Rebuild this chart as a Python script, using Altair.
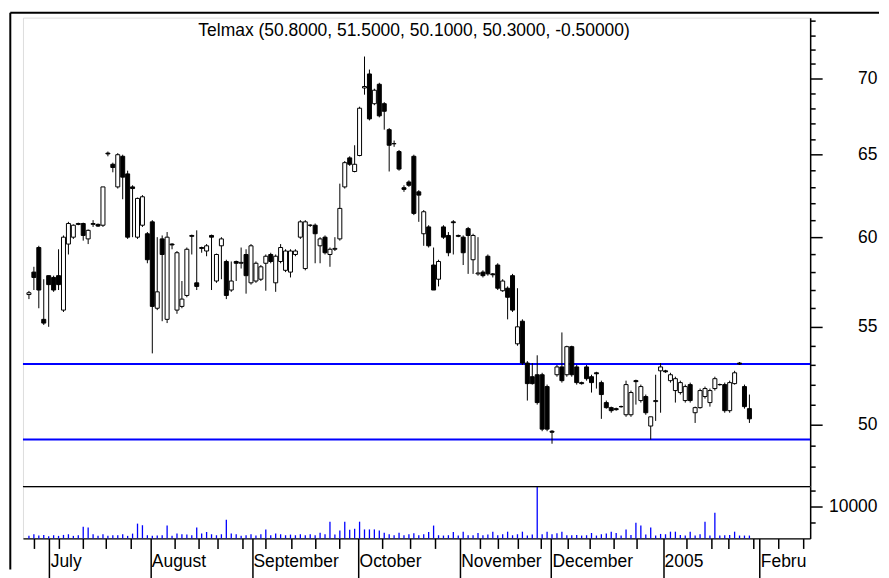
import altair as alt
import pandas as pd

FONT = "Liberation Sans"

opens = [56.75, 58.0, 59.4, 55.4, 57.8, 57.7, 57.8, 55.9, 59.6, 60.0,
         60.8, 60.8, 59.9, 60.75, 60.75, 60.7, 65.1, 64.4, 63.0, 64.9,
         63.8, 63.0, 60.0, 60.7, 60.2, 60.9, 56.0, 59.9, 55.4, 59.6,
         55.9, 56.1, 56.7, 60.1, 57.4, 59.4, 59.2, 60.1, 57.5, 59.5,
         58.6, 57.0, 58.6, 58.5, 59.0, 57.4, 57.5, 57.6, 58.5, 59.0,
         57.4, 58.6, 58.1, 58.0, 59.0, 60.0, 58.2, 60.7, 60.7, 59.5,
         60.0, 59.0, 59.3, 59.9, 63.0, 64.8, 63.95, 64.95, 69.35, 70.3,
         68.3, 69.6, 68.3, 66.6, 65.7, 65.2, 62.95, 63.3, 64.9, 62.7,
         60.2, 60.6, 58.4, 57.6, 60.6, 60.1, 60.9, 60.1, 60.0, 60.5,
         58.7, 57.9, 58.0, 58.9, 57.9, 58.4, 56.96, 57.1, 57.8, 54.1,
         55.3, 53.1, 52.4, 52.5, 52.5, 51.9, 49.7, 52.5, 52.9, 52.5,
         53.95, 52.9, 52.1, 52.9, 52.4, 52.6, 52.1, 51.1, 50.85, 50.8,
         50.9, 50.5, 50.5, 52.2, 51.2, 51.4, 49.95, 51.15, 52.7, 52.7,
         52.2, 51.7, 51.6, 51.2, 52.0, 50.6, 50.85, 51.4, 51.1, 51.8,
         52.0, 52.0, 50.7, 52.05, 53.1, 51.9, 50.8]
highs = [56.95, 58.3, 59.5, 57.6, 57.8, 57.8, 59.3, 60.1, 60.9, 60.75,
         60.85, 60.85, 60.45, 61.0, 60.8, 63.0, 65.2, 64.5, 65.1, 65.0,
         64.0, 63.1, 62.35, 62.5, 60.3, 61.0, 60.0, 60.1, 60.3, 59.65,
         59.2, 57.5, 59.4, 60.15, 60.4, 59.45, 59.6, 60.15, 59.05, 60.0,
         58.7, 58.6, 58.65, 59.4, 59.3, 59.6, 58.6, 58.4, 59.0, 59.1,
         59.0, 59.6, 59.3, 59.3, 59.3, 61.0, 61.0, 60.75, 60.8, 60.0,
         60.1, 59.4, 60.0, 63.2, 64.6, 64.9, 65.6, 68.1, 71.5, 70.6,
         69.3, 69.7, 68.4, 66.7, 65.9, 65.3, 63.1, 63.4, 65.0, 62.8,
         61.6, 60.7, 59.4, 58.7, 60.7, 60.3, 61.0, 60.15, 60.1, 60.6,
         60.2, 60.0, 58.1, 59.0, 57.95, 58.5, 57.6, 57.2, 57.9, 57.1,
         55.4, 53.2, 53.1, 53.5, 52.6, 52.0, 49.75, 53.0, 54.7, 54.0,
         54.0, 53.0, 52.15, 53.0, 52.5, 52.65, 52.2, 51.2, 50.9, 50.85,
         50.95, 52.2, 51.7, 52.25, 52.0, 51.5, 50.4, 52.5, 53.1, 52.75,
         52.6, 52.4, 52.2, 52.0, 52.1, 50.9, 51.8, 51.9, 51.8, 52.4,
         52.05, 52.1, 52.2, 52.7, 53.15, 52.0, 51.5]
lows = [56.5, 57.0, 56.0, 55.1, 55.0, 56.9, 57.0, 55.8, 59.0, 59.9,
        60.7, 59.8, 59.6, 60.6, 60.6, 60.6, 64.9, 63.9, 62.9, 62.25,
        59.9, 60.0, 59.9, 60.6, 58.5, 53.6, 55.9, 55.3, 55.2, 59.3,
        55.7, 56.0, 56.6, 59.0, 57.0, 59.1, 58.9, 57.0, 57.4, 57.6,
        56.5, 56.9, 57.5, 58.2, 56.8, 57.3, 57.4, 57.5, 56.96, 58.5,
        56.9, 58.5, 58.0, 57.7, 58.9, 59.9, 58.1, 60.6, 58.5, 58.5,
        59.0, 58.3, 59.2, 59.8, 62.9, 64.3, 63.9, 64.9, 68.9, 67.2,
        68.2, 67.4, 66.6, 63.95, 65.5, 64.0, 62.7, 63.0, 61.3, 60.9,
        59.5, 59.4, 57.0, 57.2, 59.9, 58.9, 59.0, 60.0, 58.4, 57.9,
        57.9, 57.8, 57.7, 57.8, 57.7, 57.0, 56.9, 55.4, 55.8, 54.0,
        53.0, 51.2, 52.0, 51.0, 49.7, 49.7, 49.1, 52.4, 52.1, 52.4,
        52.4, 52.0, 52.0, 52.2, 51.6, 51.8, 50.3, 50.8, 50.6, 50.7,
        50.85, 50.4, 50.4, 51.0, 51.1, 50.5, 49.3, 50.2, 50.6, 52.6,
        52.1, 51.1, 51.5, 51.1, 51.1, 50.1, 50.8, 51.3, 50.9, 51.7,
        51.95, 50.6, 50.6, 52.0, 53.0, 50.8, 50.1]
closes = [56.85, 57.7, 57.0, 55.2, 57.3, 57.0, 57.3, 60.0, 60.8, 60.7,
          60.75, 60.1, 60.4, 60.8, 60.65, 63.0, 65.05, 64.2, 65.0, 63.6,
          60.0, 62.9, 62.3, 62.4, 58.7, 56.1, 56.9, 59.0, 60.0, 59.55,
          59.1, 56.5, 59.3, 60.05, 57.2, 59.35, 59.5, 60.0, 59.0, 59.9,
          56.7, 57.5, 58.5, 58.55, 57.8, 59.5, 58.5, 58.3, 58.9, 58.6,
          58.9, 59.4, 59.2, 59.2, 59.2, 60.9, 60.9, 60.7, 60.2, 59.9,
          59.1, 59.3, 59.35, 61.7, 64.5, 64.4, 64.4, 68.0, 69.45, 67.3,
          69.2, 67.5, 67.8, 65.6, 65.7, 64.1, 62.85, 63.1, 61.4, 62.5,
          61.5, 59.5, 57.0, 58.6, 60.0, 59.1, 60.85, 60.05, 59.1, 60.1,
          60.1, 57.95, 57.8, 57.9, 57.85, 57.1, 57.5, 56.6, 55.9, 55.0,
          53.1, 52.05, 52.05, 51.1, 49.8, 49.8, 49.65, 52.9, 52.2, 53.95,
          52.5, 52.1, 52.05, 52.3, 52.1, 52.55, 51.5, 50.85, 50.7, 50.75,
          50.9, 52.0, 51.6, 52.15, 51.9, 50.6, 50.4, 51.2, 52.9, 52.65,
          52.5, 52.3, 52.1, 51.9, 51.2, 50.85, 51.7, 51.8, 51.7, 52.3,
          52.0, 50.7, 52.1, 52.6, 53.05, 50.9, 50.3]
volumes = [800, 1300, 900, 1100, 700, 1000, 800, 1100, 1300, 800,
           1000, 3600, 3400, 1300, 800, 1300, 800, 1000, 1000, 1300,
           800, 1500, 4600, 4100, 1000, 800, 900, 1000, 4000, 800,
           1500, 1300, 1200, 1000, 3400, 1500, 2000, 1300, 1000, 1300,
           5800, 1500, 1300, 800, 1000, 1300, 900, 1300, 2800, 1000,
           1500, 1300, 1000, 1200, 1000, 1300, 1000, 1300, 1000, 1800,
           1300, 5200, 1200, 2500, 5200, 2700, 3000, 5200, 2800, 2800,
           2800, 2500, 1800, 1300, 1000, 1800, 1000, 1300, 1600, 1000,
           1300, 2000, 4000, 1000, 900, 1000, 2000, 900, 2100, 1000,
           1000, 1700, 1000, 1200, 2100, 1000, 1300, 2100, 1000, 1300,
           2100, 900, 1200, 16000, 1300, 2100, 1300, 1600, 2100, 1000,
           1000, 1100, 900, 1000, 1700, 900, 1300, 1500, 2100, 1700,
           900, 2800, 1100, 4900, 4000, 1200, 3400, 900, 1400, 1300,
           2100, 2100, 1100, 900, 2100, 900, 1300, 5200, 900, 8000,
           900, 1000, 1100, 2100, 900, 900, 900]

support_levels = [53.05, 49.3]
price_ticks = list(range(48, 75))
volume_ticks = [5000, 10000, 15000]
month_pos = [4.1, 24.6, 45.2, 66.7, 87.3, 105.8, 128.5, 148.0]
month_names = ["July", "August", "September", "October", "November",
               "December", "2005", "Febru"]
week_pos = [1.1, 6.1, 11.0, 15.6, 20.6, 29.6, 34.4, 38.2, 43.2, 48.0,
            53.2, 58.0, 62.9, 71.6, 77.3, 82.3, 91.3, 95.1, 99.1, 103.7,
            109.2, 113.6, 118.4, 123.2, 133.2, 138.2, 141.8, 146.8, 151.8,
            156.8]
title_text = "Telmax (50.8000, 51.5000, 50.1000, 50.3000, -0.50000)"

n = len(opens)
df = pd.DataFrame({"i": list(range(n)), "open": opens, "high": highs,
                   "low": lows, "close": closes, "volume": volumes})

W = 789
H1 = 470
H2 = 52
FS = 17.5

xscale = alt.Scale(domain=[-0.2, 157.3], nice=False, zero=False)
pscale = alt.Scale(type="log", domain=[47.1, 74.25], nice=False, zero=False)
vscale = alt.Scale(domain=[0, 16100], nice=False, zero=True)

month_list = "[" + ",".join(str(v) for v in month_pos) + "]"
name_list = "[" + ",".join("'" + s + "'" for s in month_names) + "]"

price_y_axis = alt.Axis(
    orient="right", values=price_ticks, grid=False, title=None,
    labelExpr="datum.value % 5 === 0 ? '' + datum.value : ''",
    tickSize={"condition": {"test": "datum.value % 5 === 0", "value": 12}, "value": 5},
    labelAlign="right", labelPadding=55, labelFontSize=FS, labelFont=FONT,
    labelOverlap=False, labelFlush=False, labelBound=False,
    domainColor="black", tickColor="black", labelColor="black",
    tickWidth=1.5, domainWidth=1.5)
price_x_axis = alt.Axis(orient="bottom", ticks=False, labels=False, grid=False,
                        title=None, domain=False)

base = alt.Chart(df)
wicks = base.mark_rule(color="black", strokeWidth=1).encode(
    x=alt.X("i:Q", scale=xscale, axis=price_x_axis),
    y=alt.Y("low:Q", scale=pscale, axis=price_y_axis),
    y2="high:Q")
bodies = base.mark_bar(size=4, stroke="black", strokeWidth=1).encode(
    x=alt.X("i:Q", scale=xscale),
    y=alt.Y("open:Q", scale=pscale),
    y2="close:Q",
    fill=alt.condition("datum.close >= datum.open", alt.value("white"), alt.value("black")))
support = alt.Chart(pd.DataFrame({"level": support_levels})).mark_rule(
    color="#0000ff", strokeWidth=2).encode(y=alt.Y("level:Q", scale=pscale))

one = pd.DataFrame({"k": [0]})
frame_top = alt.Chart(one).mark_rule(color="black", strokeWidth=2, clip=False).encode(
    x=alt.value(-12.7), x2=alt.value(858), y=alt.value(-5))
frame_left = alt.Chart(one).mark_rule(color="black", strokeWidth=2, clip=False).encode(
    x=alt.value(-12.7), y=alt.value(-5), y2=alt.value(553))
title = alt.Chart(one).mark_text(font=FONT, fontSize=FS, color="black",
                                 baseline="middle", align="center", clip=False).encode(
    x=alt.value(392), y=alt.value(13), text=alt.value(title_text))

price = alt.layer(support, wicks, bodies, frame_top, frame_left, title).properties(
    width=W, height=H1)

vol_x_axis = alt.Axis(
    values=week_pos + month_pos, grid=False, title=None,
    labelExpr="indexof(" + month_list + ", datum.value) >= 0 ? " + name_list +
              "[indexof(" + month_list + ", datum.value)] : ''",
    tickSize={"condition": {"test": "indexof(" + month_list + ", datum.value) >= 0",
                            "value": 45}, "value": 10},
    labelAlign="left", labelBaseline="alphabetic", labelPadding=-17, labelOffset=1,
    labelFontSize=FS, labelFont=FONT, labelOverlap=False, labelFlush=False,
    labelBound=False, domainColor="black", tickColor="black", labelColor="black",
    tickWidth=1.5, domainWidth=1.2)
vol_y_axis = alt.Axis(
    orient="right", values=volume_ticks, grid=False, title=None,
    labelExpr="datum.value === 10000 ? '10000' : ''",
    tickSize={"condition": {"test": "datum.value === 10000", "value": 12}, "value": 5},
    labelAlign="right", labelPadding=55, labelFontSize=FS, labelFont=FONT,
    labelOverlap=False, labelFlush=False, labelBound=False,
    domainColor="black", tickColor="black", labelColor="black",
    tickWidth=1.5, domainWidth=1.5)

vol_bars = alt.Chart(df).mark_bar(size=1.3, color="#0000ff").encode(
    x=alt.X("i:Q", scale=xscale, axis=vol_x_axis),
    y=alt.Y("volume:Q", scale=vscale, axis=vol_y_axis))
divider = alt.Chart(one).mark_rule(color="black", strokeWidth=1.2).encode(
    y=alt.value(0))
volume = alt.layer(vol_bars, divider).properties(width=W, height=H2)

chart = alt.vconcat(price, volume, spacing=0, bounds="flush").properties(
    padding={"left": 0, "top": 2, "right": 0, "bottom": 0}
).configure_view(stroke=None).configure_axis(
    domainColor="black", tickColor="black"
).configure(background="white")

chart.save("out.html", embed_options={"renderer": "svg", "actions": False})
